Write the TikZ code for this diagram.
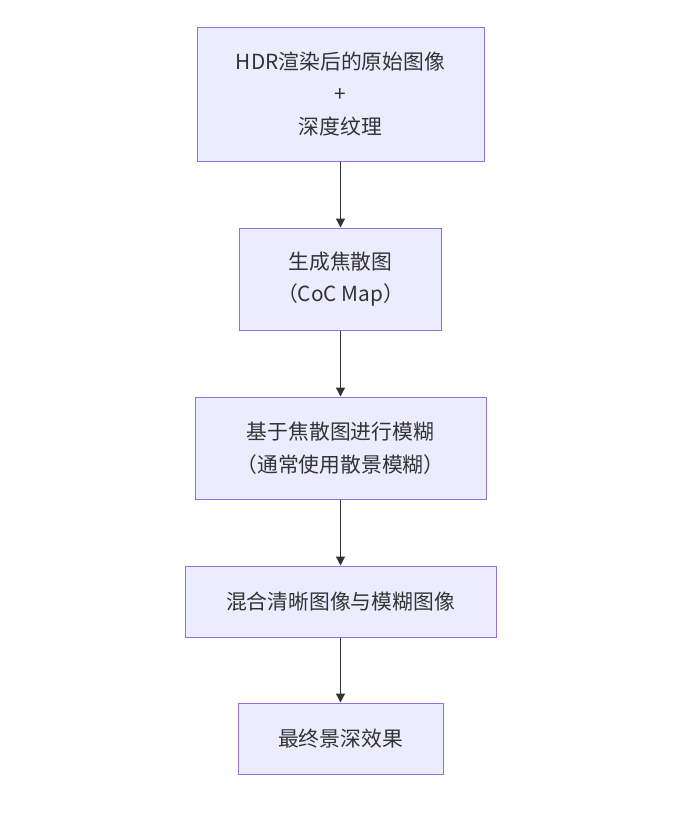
\documentclass[tikz,border=0pt]{standalone}
\usepackage{fontspec}
\setmainfont{Noto Sans CJK SC}
\usetikzlibrary{arrows.meta}
\definecolor{boxfill}{HTML}{ECECFF}
\definecolor{boxline}{HTML}{9370DB}
\definecolor{ink}{HTML}{333333}

\begin{document}
\begin{tikzpicture}[x=1pt, y=-1pt,
    stage/.style ={rectangle, draw=boxline, fill=boxfill, line width=1pt,
      text=ink, align=center, inner sep=0pt,
      font=\fontsize{20.8}{32.5}\selectfont},
    flow/.style ={draw=ink, line width=1.3pt, -{Triangle[length=9pt,width=9pt]}}]
   \useasboundingbox (0,0) rectangle (673,833);
   \node[stage, minimum width=287pt, minimum height=134pt] (hdr)   at (340.5,94)  {HDR渲染后的原始图像\\+\\深度纹理};
   \node[stage, minimum width=202pt, minimum height=102pt] (coc)   at (340.5,279) {生成焦散图\\（CoC Map）};
   \node[stage, minimum width=291pt, minimum height=102pt] (blur)  at (340.5,448) {基于焦散图进行模糊\\（通常使用散景模糊）};
   \node[stage, minimum width=311pt, minimum height=71pt]  (mix)   at (340.5,601.5) {混合清晰图像与模糊图像};
   \node[stage, minimum width=205pt, minimum height=71pt]  (final) at (340.5,738.5) {最终景深效果};

   \draw[flow] (hdr) to (coc);
   \draw[flow] (coc) to (blur);
   \draw[flow] (blur) to (mix);
   \draw[flow] (mix) to (final);
 \end{tikzpicture}
\end{document}
